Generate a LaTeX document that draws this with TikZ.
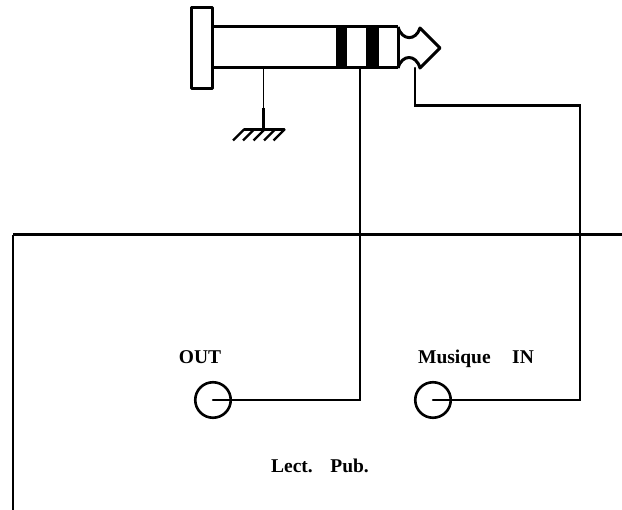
\documentclass[tikz,border=0pt]{standalone}
\usepackage{fontspec}
\setmainfont{Liberation Serif}
\tikzset{
  wire/.style={draw=black,line width=2.1pt,line cap=round,line join=miter},
  body/.style={draw=black,line width=3pt,line join=round},
  jack/.style={circle,draw=black,line width=2.6pt,minimum size=35.5pt,inner sep=0pt},
  lbl/.style={font=\bfseries\fontsize{19.5pt}{21pt}\selectfont,inner sep=0pt,text=black,anchor=base},
}
\begin{document}
\begin{tikzpicture}[x=1pt,y=-1pt]
\useasboundingbox (0,0) rectangle (622,510);
% plug
\draw[body] (191.5,7.5) rectangle (212.5,89);
\draw[body] (212.5,27) -- (398,27) (212.5,68) -- (398,68) (398,27) -- (398,68);
\fill[black] (336,27) rectangle (347,68);
\fill[black] (366,27) rectangle (379,68);
\draw[body] (398,27) .. controls (402,41) and (416,41) .. (420,28) -- (440,48) -- (420,68)
  .. controls (416,54) and (402,54) .. (398,68);
% ground
\coordinate (plugG) at (263.5,68);
\coordinate (gnd) at (263.5,129);
\coordinate (plugR) at (360,68);
\coordinate (plugT) at (415,68);
\draw[line width=1.8pt] (plugG) -- (gnd);
\draw[line width=3pt] (263.5,108) -- (gnd);
\draw[wire] (244,129.5) -- (284.5,129.5);
\foreach \x in {244,254,264.5,275,284.5}
  \draw[line width=2.4pt] (\x,129.5) -- (\x-11,140.5);
% panel
\coordinate (pl) at (13,510);
\coordinate (pc) at (13,235);
\coordinate (pr) at (622,235);
\draw[line width=3pt] (pr) -- (pc);
\draw[line width=2.2pt] (pc) -- (pl);
% jacks
\node[jack] (out) at (213,400) {};
\node[jack] (in) at (433,400) {};
\coordinate (c1) at (360,400);
\coordinate (c2) at (580,400);
\coordinate (c3) at (580,105.5);
\coordinate (c4) at (415,105.5);
\draw[wire] (out.center) -- (c1) -- (plugR);
\draw[wire] (in.center) -- (c2) -- (c3) -- (c4) -- (plugT);
% labels
\node[lbl] (lout) at (200,363.5) {OUT};
\node[lbl] (lin) at (476,363.5) {Musique\hspace{1.1em}IN};
\node[lbl] (lpub) at (320,473) {Lect.\hspace{0.9em}Pub.};
\end{tikzpicture}
\end{document}
